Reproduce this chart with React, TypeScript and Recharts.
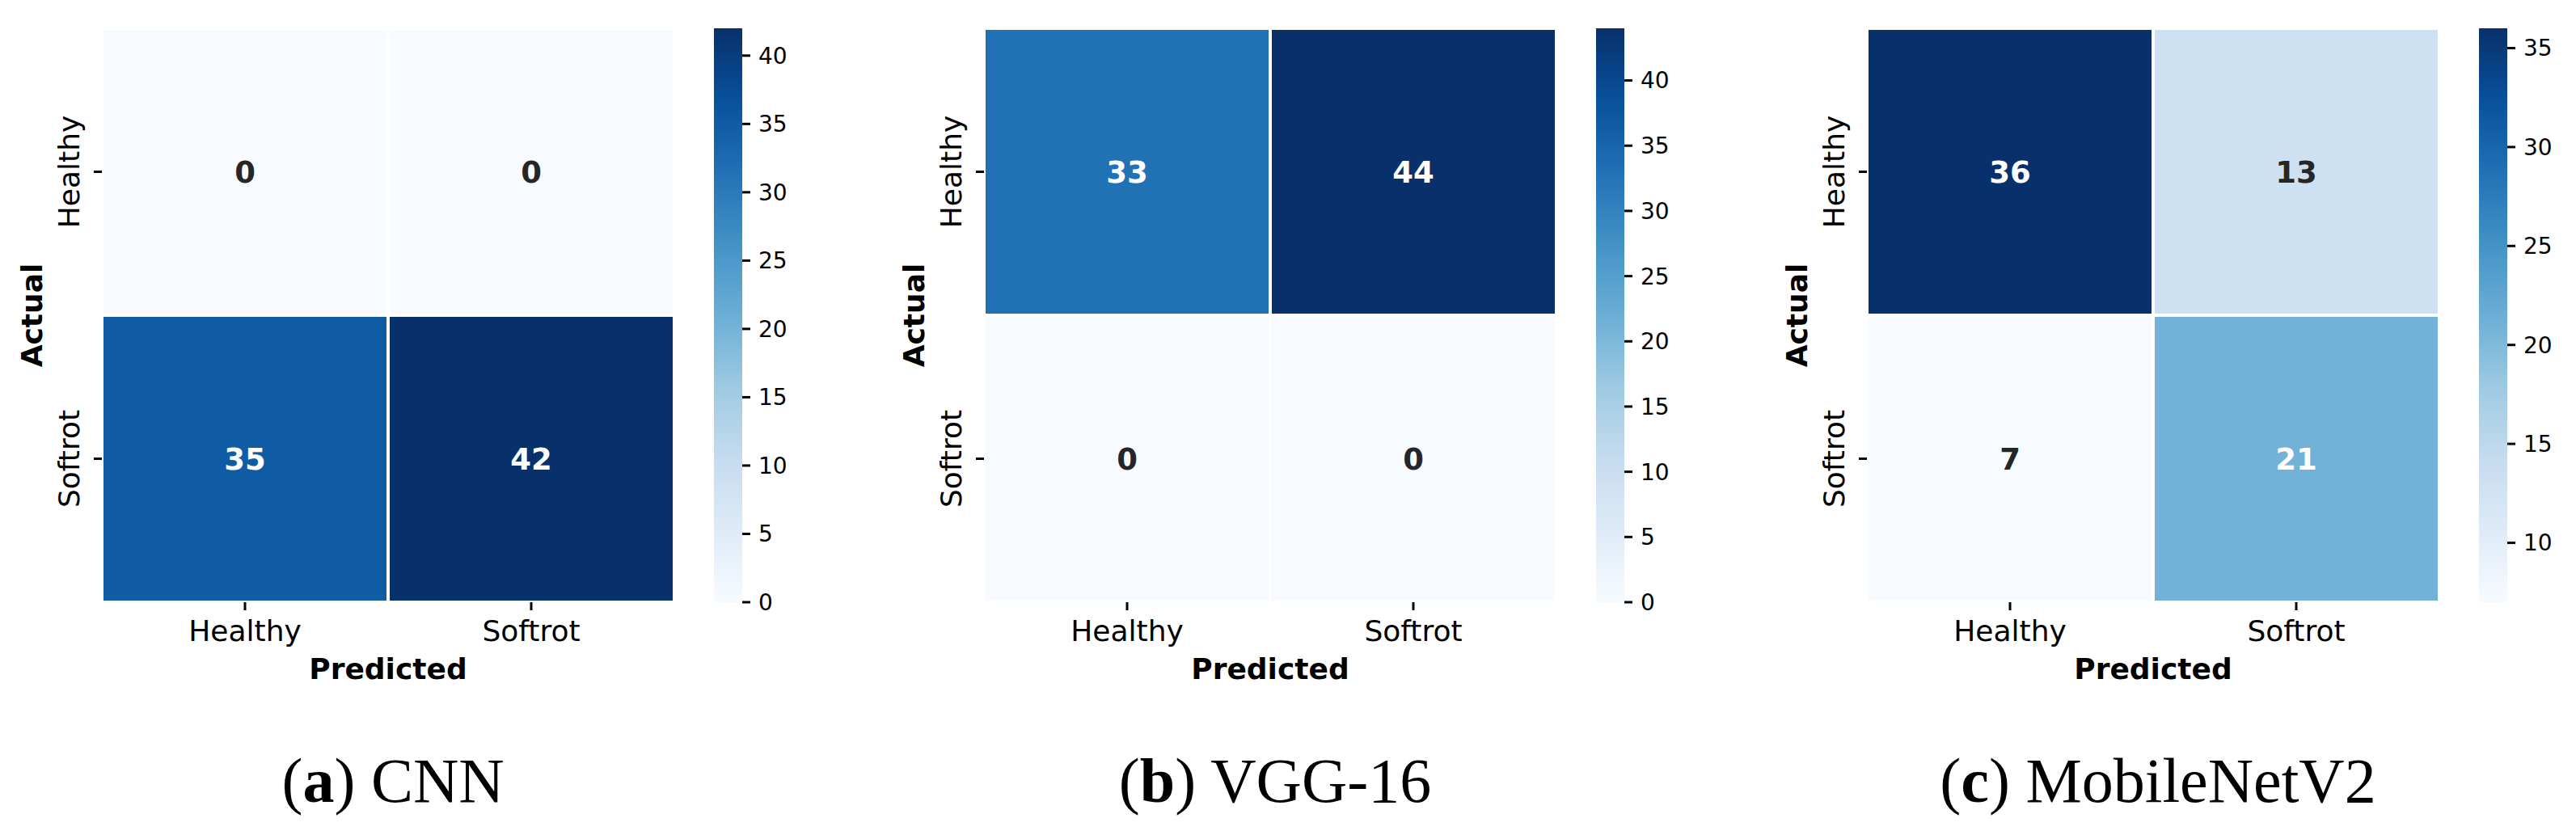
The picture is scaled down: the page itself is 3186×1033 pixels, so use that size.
import React from 'react';
import { BarChart, Bar, XAxis, YAxis, Cell, LabelList } from 'recharts';

// confusion matrices: rows = actual, cols = predicted
const CLASSES = ['Healthy', 'Softrot'];

const CNN_MATRIX = [
  [0, 0],
  [35, 42],
];
const VGG_MATRIX = [
  [33, 44],
  [0, 0],
];
const MOBILENET_MATRIX = [
  [36, 13],
  [7, 21],
];

const CNN_TICKS = [0, 5, 10, 15, 20, 25, 30, 35, 40];
const VGG_TICKS = [0, 5, 10, 15, 20, 25, 30, 35, 40];
const MOBILENET_TICKS = [10, 15, 20, 25, 30, 35];

const PANEL_LETTERS = ['a', 'b', 'c'];
const PANEL_NAMES = ['CNN', 'VGG-16', 'MobileNetV2'];
const PANEL_MATRICES = [CNN_MATRIX, VGG_MATRIX, MOBILENET_MATRIX];
const PANEL_TICKS = [CNN_TICKS, VGG_TICKS, MOBILENET_TICKS];

// layout
const PANEL_LEFT = [0, 1091, 2183];
const AXIS_W = 126;
const PLOT_W = 708;
const PLOT_H = 710;
const TOP = 35;
const XAXIS_H = 140;
const CBAR_OFFSET = AXIS_W + 757;
const CBAR_W = 35;

const SANS = '"DejaVu Sans", sans-serif';

// matplotlib "Blues"
const BLUES = ['#f7fbff', '#deebf7', '#c6dbef', '#9ecae1', '#6baed6', '#4292c6', '#2171b5', '#08519c', '#08306b'];

const hexToRgb = (h: string) => [1, 3, 5].map((i) => parseInt(h.slice(i, i + 2), 16));

const mix = (t: number) => {
  const c = Math.max(0, Math.min(1, t)) * (BLUES.length - 1);
  const i = Math.min(Math.floor(c), BLUES.length - 2);
  const f = c - i;
  const a = hexToRgb(BLUES[i]);
  const b = hexToRgb(BLUES[i + 1]);
  return a.map((v, k) => v + (b[k] - v) * f);
};

const blues = (t: number) => `rgb(${mix(t).map(Math.round).join(',')})`;

const luminance = (t: number) => {
  const lin = mix(t).map((v) => {
    const s = v / 255;
    return s <= 0.03928 ? s / 12.92 : Math.pow((s + 0.055) / 1.055, 2.4);
  });
  return 0.2126 * lin[0] + 0.7152 * lin[1] + 0.0722 * lin[2];
};

const YTick = (props: any) => {
  const { x, y, payload } = props;
  const idx = CLASSES.length - 1 - Math.floor(payload.value);
  return (
    <text x={x} y={y} transform={`rotate(-90, ${x}, ${y})`} textAnchor="middle" fontSize={36} fill="#000" fontFamily={SANS}>
      {CLASSES[idx]}
    </text>
  );
};

const Heatmap = ({ matrix }: { matrix: number[][] }) => {
  const flat = matrix.flat();
  const vmin = Math.min(...flat);
  const vmax = Math.max(...flat);
  const norm = (v: number) => (vmax === vmin ? 0 : (v - vmin) / (vmax - vmin));

  // bottom stack segment = last actual class
  const rows = CLASSES.map((_, i) => CLASSES.length - 1 - i);
  const data = CLASSES.map((pred, j) => {
    const d: any = { predicted: pred };
    rows.forEach((r) => {
      d[`cell${r}`] = 1;
      d[`count${r}`] = matrix[r][j];
    });
    return d;
  });

  return (
    <BarChart
      width={AXIS_W + PLOT_W}
      height={TOP + PLOT_H + XAXIS_H}
      data={data}
      margin={{ top: TOP, right: 0, bottom: 0, left: 0 }}
      barCategoryGap={0}
      barGap={0}
    >
      <XAxis
        dataKey="predicted"
        height={XAXIS_H}
        axisLine={false}
        tickSize={10}
        tickMargin={12}
        tickLine={{ stroke: '#000', strokeWidth: 3 }}
        tick={{ fill: '#000', fontSize: 36, fontFamily: SANS }}
        label={{
          content: (p: any) => {
            const vb = p.viewBox;
            return (
              <text x={vb.x + vb.width / 2} y={vb.y + 95} textAnchor="middle" fontSize={36} fontWeight="bold" fill="#000" fontFamily={SANS}>
                Predicted
              </text>
            );
          },
        }}
      />
      <YAxis
        type="number"
        domain={[0, CLASSES.length]}
        ticks={CLASSES.map((_, i) => i + 0.5)}
        width={AXIS_W}
        axisLine={false}
        tickSize={10}
        tickMargin={18}
        tickLine={{ stroke: '#000', strokeWidth: 3 }}
        tick={<YTick />}
        label={{
          content: (p: any) => {
            const vb = p.viewBox;
            const x = vb.x + 52;
            const y = vb.y + vb.height / 2;
            return (
              <text x={x} y={y} transform={`rotate(-90, ${x}, ${y})`} textAnchor="middle" fontSize={36} fontWeight="bold" fill="#000" fontFamily={SANS}>
                Actual
              </text>
            );
          },
        }}
      />
      {rows.map((r) => (
        <Bar key={r} dataKey={`cell${r}`} stackId="cm" stroke="#fff" strokeWidth={4} isAnimationActive={false}>
          {data.map((d: any, j: number) => (
            <Cell key={j} fill={blues(norm(d[`count${r}`]))} />
          ))}
          <LabelList
            dataKey={`count${r}`}
            content={(p: any) => {
              const vb = p.viewBox || p;
              const cx = vb.x + vb.width / 2;
              const cy = vb.y + vb.height / 2;
              const v = Number(p.value);
              const color = luminance(norm(v)) > 0.408 ? '#262626' : '#ffffff';
              return (
                <text x={cx} y={cy} dy="0.36em" textAnchor="middle" fontSize={37} fontWeight="bold" fill={color} fontFamily={SANS}>
                  {v}
                </text>
              );
            }}
          />
        </Bar>
      ))}
    </BarChart>
  );
};

const Colorbar = ({ matrix, ticks, gradId }: { matrix: number[][]; ticks: number[]; gradId: string }) => {
  const flat = matrix.flat();
  const vmin = Math.min(...flat);
  const vmax = Math.max(...flat);
  return (
    <BarChart
      width={CBAR_W + 125}
      height={TOP + PLOT_H + 35}
      data={[{ name: 'scale', v: vmax }]}
      margin={{ top: TOP, right: 0, bottom: 35, left: 0 }}
      barCategoryGap={0}
    >
      <XAxis dataKey="name" hide />
      <YAxis
        orientation="right"
        type="number"
        domain={[vmin, vmax]}
        ticks={ticks}
        width={125}
        axisLine={false}
        tickSize={10}
        tickMargin={10}
        tickLine={{ stroke: '#000', strokeWidth: 3 }}
        tick={{ fill: '#000', fontSize: 28, fontFamily: SANS }}
      />
      <Bar dataKey="v" fill={`url(#${gradId})`} isAnimationActive={false} />
    </BarChart>
  );
};

export default function App() {
  return (
    <div style={{ position: 'absolute', left: 0, top: 0, width: 3186, height: 1033, background: '#fff', fontFamily: SANS }}>
      <svg width={0} height={0} style={{ position: 'absolute' }}>
        <defs>
          {PANEL_LETTERS.map((l) => (
            <linearGradient key={l} id={`blues-${l}`} x1="0" y1="1" x2="0" y2="0">
              {BLUES.map((c, i) => (
                <stop key={i} offset={i / (BLUES.length - 1)} stopColor={c} />
              ))}
            </linearGradient>
          ))}
        </defs>
      </svg>
      {PANEL_LETTERS.map((l, k) => (
        <React.Fragment key={l}>
          <div style={{ position: 'absolute', left: PANEL_LEFT[k], top: 0 }}>
            <Heatmap matrix={PANEL_MATRICES[k]} />
          </div>
          <div style={{ position: 'absolute', left: PANEL_LEFT[k] + CBAR_OFFSET, top: 0 }}>
            <Colorbar matrix={PANEL_MATRICES[k]} ticks={PANEL_TICKS[k]} gradId={`blues-${l}`} />
          </div>
        </React.Fragment>
      ))}
      <svg width={3186} height={1033} style={{ position: 'absolute', left: 0, top: 0, pointerEvents: 'none' }}>
        {PANEL_LETTERS.map((l, k) => (
          <text
            key={l}
            x={PANEL_LEFT[k] + AXIS_W + PLOT_W / 2 + 6}
            y={992}
            textAnchor="middle"
            fontSize={78}
            fill="#000"
            fontFamily='"Liberation Serif", serif'
          >
            (<tspan fontWeight="bold">{l}</tspan>) {PANEL_NAMES[k]}
          </text>
        ))}
      </svg>
    </div>
  );
}
